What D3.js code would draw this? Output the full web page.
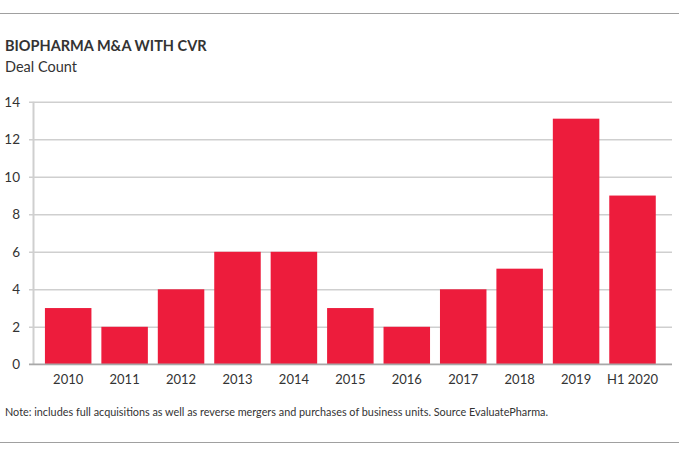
<!DOCTYPE html>
<html><head><meta charset="utf-8">
<script src="https://cdn.jsdelivr.net/npm/d3@7"></script>
<style>
body{margin:0;background:#fff;}
svg{display:block;font-family:Lato,"Open Sans",sans-serif;}
</style></head>
<body><svg id="c" width="679" height="456"></svg>
<script>
const categories = ["2010","2011","2012","2013","2014","2015","2016","2017","2018","2019","H1 2020"];
const dealCounts = [3,2,4,6,6,3,2,4,5.1,13.1,9];
const yTicks = [0,2,4,6,8,10,12,14];
const title = "BIOPHARMA M&A WITH CVR";
const subtitle = "Deal Count";
const note = "Note: includes full acquisitions as well as reverse mergers and purchases of business units. Source EvaluatePharma.";

const svg = d3.select("#c");
svg.append("line").attr("x1",0).attr("x2",679).attr("y1",13.5).attr("y2",13.5).attr("stroke","#a0a0a0").attr("stroke-width",1.2);
svg.append("line").attr("x1",0).attr("x2",679).attr("y1",442.5).attr("y2",442.5).attr("stroke","#a0a0a0").attr("stroke-width",1.2);
svg.append("text").attr("x",5).attr("y",51).attr("font-size",14.5).attr("font-weight","bold").attr("fill","#333").text(title);
svg.append("text").attr("x",5).attr("y",72).attr("font-size",14.5).attr("fill","#333").text(subtitle);

const y = d3.scaleLinear().domain([0,14]).range([364.3,101.8]);
const x = d3.scaleBand().domain(categories).range([35,665.7]).paddingInner(0.176).paddingOuter(0.176);

const g = svg.append("g").attr("transform","translate(29,0)");
g.call(d3.axisLeft(y).tickValues(yTicks).tickSize(-(672-29)).tickPadding(9).tickFormat(d3.format("d")));
g.select(".domain").remove();
g.selectAll(".tick line").attr("stroke","#cfcfcf").attr("stroke-width",1.5);
g.selectAll(".tick text").attr("font-size",13.5).attr("fill","#333").attr("font-family","Lato,'Open Sans',sans-serif");
svg.append("line").attr("x1",33.5).attr("x2",33.5).attr("y1",y(14)).attr("y2",y(0)).attr("stroke","#cfcfcf").attr("stroke-width",2);

svg.append("g").selectAll("rect").data(dealCounts).join("rect")
  .attr("x",(d,i)=>x(categories[i]))
  .attr("width",x.bandwidth())
  .attr("y",d=>y(d))
  .attr("height",d=>y(0)-y(d))
  .attr("fill","#ED1C3C");

svg.append("line").attr("x1",29).attr("x2",672).attr("y1",y(0)).attr("y2",y(0)).attr("stroke","#a8a8a8").attr("stroke-width",1.5);

const gx = svg.append("g").attr("transform",`translate(0,${y(0)})`);
gx.call(d3.axisBottom(x).tickSize(0).tickPadding(10));
gx.select(".domain").remove();
gx.selectAll(".tick text").attr("font-size",13).attr("fill","#333").attr("font-family","Lato,'Open Sans',sans-serif");

svg.append("text").attr("x",5).attr("y",416).attr("font-size",11.5).attr("fill","#333")
  .attr("textLength",543).attr("lengthAdjust","spacingAndGlyphs").text(note);
</script></body></html>
